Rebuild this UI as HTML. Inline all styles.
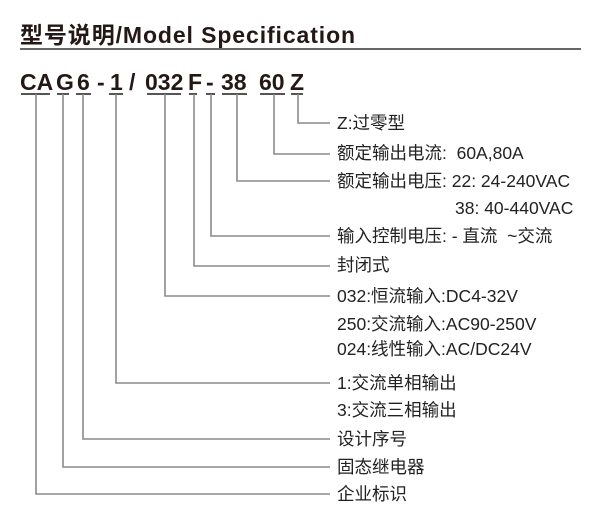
<!DOCTYPE html>
<html><head><meta charset="utf-8"><style>
body{margin:0;width:600px;height:523px;background:#fff;position:relative;overflow:hidden;font-family:"Liberation Sans","Noto Sans CJK SC",sans-serif;color:#231815}
.t{position:absolute;white-space:nowrap}
.title{left:20px;top:16px;font-size:23px;font-weight:bold;letter-spacing:0.9px}
.code{top:69px;font-size:23px;font-weight:bold}
.lab{left:337px;font-size:17.5px;line-height:20px;color:#222}
</style></head><body>
<div class="t title">型号说明/Model Specification</div>
<svg style="position:absolute;left:0;top:0" width="600" height="523">
<line x1="20" y1="49" x2="581" y2="49" stroke="#333" stroke-width="1.5"/>
<g stroke="#555" stroke-width="2">
<line x1="21" y1="94" x2="50" y2="94"/><line x1="57" y1="94" x2="69" y2="94"/><line x1="76" y1="94" x2="91" y2="94"/>
<line x1="109" y1="94" x2="123" y2="94"/><line x1="147" y1="94" x2="181" y2="94"/><line x1="189" y1="94" x2="197" y2="94"/>
<line x1="206" y1="94" x2="215" y2="94"/><line x1="222" y1="94" x2="247" y2="94"/><line x1="260" y1="94" x2="285" y2="94"/>
<line x1="291" y1="94" x2="303" y2="94"/>
</g>
<g stroke="#8a8a8a" stroke-width="1.6" fill="none">
<polyline points="298,94 298,123 330,123"/>
<polyline points="274,94 274,154 330,154"/>
<polyline points="237,94 237,181 330,181"/>
<polyline points="211,94 211,236 330,236"/>
<polyline points="194,94 194,266 330,266"/>
<polyline points="165,94 165,296 330,296"/>
<polyline points="116,94 116,383 330,383"/>
<polyline points="83,94 83,439 330,439"/>
<polyline points="63,94 63,467 330,467"/>
<polyline points="36,94 36,494 330,494"/>
</g>
</svg>
<div class="t code" style="left:20px">CA</div>
<div class="t code" style="left:56px">G</div>
<div class="t code" style="left:77px">6</div>
<div class="t code" style="left:97px">-</div>
<div class="t code" style="left:110px">1</div>
<div class="t code" style="left:129px">/</div>
<div class="t code" style="left:145px">032</div>
<div class="t code" style="left:188px">F</div>
<div class="t code" style="left:206px">-</div>
<div class="t code" style="left:221px">38</div>
<div class="t code" style="left:259px">60</div>
<div class="t code" style="left:290px">Z</div>
<div class="t lab" style="top:113px">Z:过零型</div>
<div class="t lab" style="top:143px">额定输出电流:&nbsp; 60A,80A</div>
<div class="t lab" style="top:171px">额定输出电压: 22: 24-240VAC</div>
<div class="t lab" style="top:198px;left:455px">38: 40-440VAC</div>
<div class="t lab" style="top:226px">输入控制电压: - 直流 &nbsp;~交流</div>
<div class="t lab" style="top:255px">封闭式</div>
<div class="t lab" style="top:286px">032:恒流输入:DC4-32V</div>
<div class="t lab" style="top:314px">250:交流输入:AC90-250V</div>
<div class="t lab" style="top:339px">024:线性输入:AC/DC24V</div>
<div class="t lab" style="top:373px">1:交流单相输出</div>
<div class="t lab" style="top:400px">3:交流三相输出</div>
<div class="t lab" style="top:429px">设计序号</div>
<div class="t lab" style="top:457px">固态继电器</div>
<div class="t lab" style="top:484px">企业标识</div>
</body></html>
